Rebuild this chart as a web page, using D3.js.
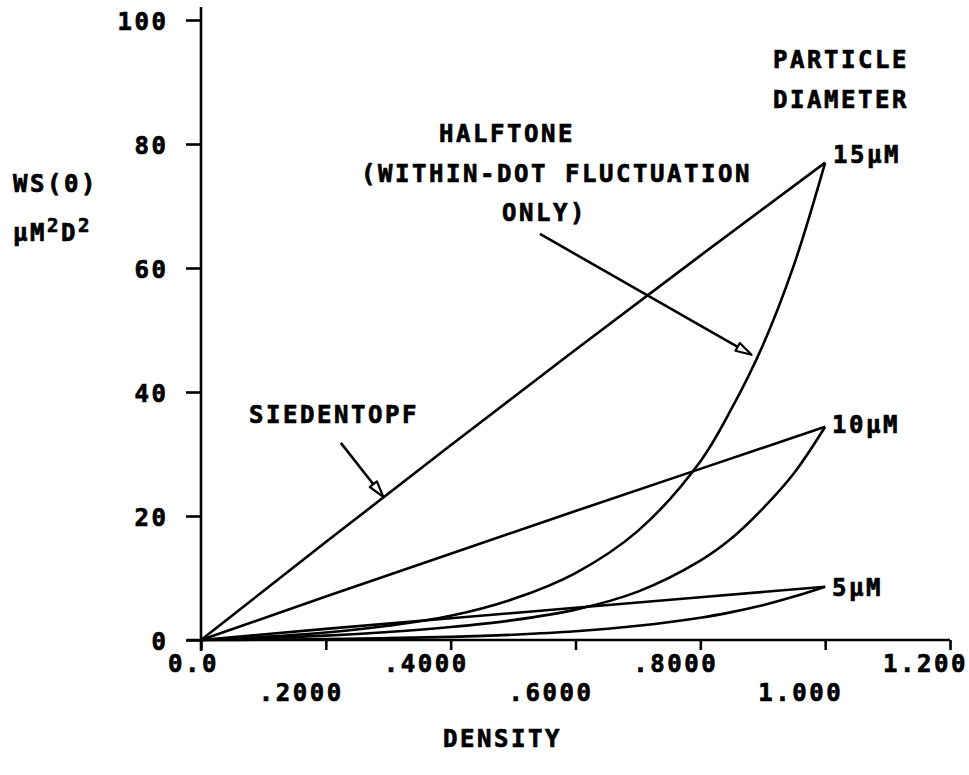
<!DOCTYPE html>
<html><head><meta charset="utf-8">
<script src="https://cdn.jsdelivr.net/npm/d3@7"></script>
<style>
body{margin:0;background:#fff;}
svg text{font-family:"DejaVu Sans Mono",monospace;font-weight:bold;font-size:24px;letter-spacing:2.55px;fill:#000;stroke:#000;stroke-width:0.7px;}
</style></head><body>
<svg id="chart" width="969" height="775"></svg>
<script>
// ---- data ----
const xTicks = [0, 0.2, 0.4, 0.6, 0.8, 1.0, 1.2];
const xTickLabels = ["0.0", ".2000", ".4000", ".6000", ".8000", "1.000", "1.200"];
const yTicks = [0, 20, 40, 60, 80, 100];
const yTickLabels = ["0", "20", "40", "60", "80", "100"];

// Siedentopf (straight) curves
const siedDensity = [0, 0.2, 0.4, 0.6, 0.8, 1.0];
const sied15 = [0, 15.8, 31.4, 46.8, 62.0, 77.0];
const sied10 = [0, 7.0, 13.9, 20.8, 27.6, 34.4];
const sied5  = [0, 1.8, 3.5, 5.2, 6.9, 8.6];

// Halftone (within-dot fluctuation only) curves
const halfDensity = [0, 0.1, 0.2, 0.3, 0.4, 0.5, 0.6, 0.7, 0.8, 0.85, 0.9, 0.95, 1.0];
const half15 = [0, 0.5, 1.2, 2.3, 3.9, 6.6, 10.8, 17.6, 28.8, 37.3, 47.5, 60.5, 77.0];
const half10 = [0, 0.3, 0.7, 1.3, 2.1, 3.2, 4.9, 7.8, 12.8, 16.4, 21.2, 26.9, 34.4];
const half5  = [0, 0.05, 0.15, 0.3, 0.5, 0.85, 1.4, 2.3, 3.6, 4.5, 5.6, 7.0, 8.6];

const diameterLabels = ["15\u00B5M", "10\u00B5M", "5\u00B5M"];

// annotation arrows in data units: [from, to]
const siedArrow = [[0.224, 31.8], [0.292, 23.1]];
const halfArrow = [[0.543, 65.5], [0.882, 46.0]];

// ---- chart ----
const svg = d3.select("#chart");
const x = d3.scaleLinear().domain([0, 1.2]).range([201, 950]);
const y = d3.scaleLinear().domain([0, 100]).range([640, 20]);
const SW = 2.6;

// x axis
const gx = svg.append("g").attr("transform", `translate(0,${y(0)})`)
  .call(d3.axisBottom(x).tickValues(xTicks).tickSize(10).tickSizeOuter(0)
    .tickFormat((d, i) => xTickLabels[i]));
gx.select(".domain").remove();
gx.selectAll(".tick line").attr("stroke", "#000").attr("stroke-width", SW);
gx.selectAll(".tick text").attr("text-anchor", "end").attr("dy", null)
  .attr("x", 17.5).attr("y", (d, i) => i % 2 ? 61 : 32);
svg.append("line").attr("x1", x(0) - 14).attr("x2", x(1.2))
  .attr("y1", y(0)).attr("y2", y(0)).attr("stroke", "#000").attr("stroke-width", SW);

// y axis
const gy = svg.append("g").attr("transform", `translate(${x(0)},0)`)
  .call(d3.axisLeft(y).tickValues(yTicks).tickSize(15).tickSizeOuter(0)
    .tickFormat((d, i) => yTickLabels[i]));
gy.select(".domain").remove();
gy.selectAll(".tick line").attr("stroke", "#000").attr("stroke-width", SW);
gy.selectAll(".tick text").attr("text-anchor", "end").attr("dy", null)
  .attr("x", -32.5).attr("y", 9);
svg.append("line").attr("x1", x(0)).attr("x2", x(0))
  .attr("y1", y(0) + 11).attr("y2", y(100) - 13).attr("stroke", "#000").attr("stroke-width", SW);

// curves
const straight = d3.line().x(d => x(d[0])).y(d => y(d[1]));
const smooth = d3.line().x(d => x(d[0])).y(d => y(d[1])).curve(d3.curveCatmullRom.alpha(0.5));
[sied15, sied10, sied5].forEach(s => {
  svg.append("path").datum(siedDensity.map((d, i) => [d, s[i]]))
    .attr("d", straight).attr("fill", "none").attr("stroke", "#000")
    .attr("stroke-width", SW).attr("stroke-linejoin", "round");
});
[half15, half10, half5].forEach(s => {
  svg.append("path").datum(halfDensity.map((d, i) => [d, s[i]]))
    .attr("d", smooth).attr("fill", "none").attr("stroke", "#000")
    .attr("stroke-width", SW).attr("stroke-linejoin", "round");
});

// arrows
function arrow(a) {
  const x1 = x(a[0][0]), y1 = y(a[0][1]), x2 = x(a[1][0]), y2 = y(a[1][1]);
  const ang = Math.atan2(y2 - y1, x2 - x1);
  const L = 16, W = 4.5;
  const bx = x2 - L * Math.cos(ang), by = y2 - L * Math.sin(ang);
  svg.append("line").attr("x1", x1).attr("y1", y1).attr("x2", bx).attr("y2", by)
    .attr("stroke", "#000").attr("stroke-width", SW);
  const p = [[x2, y2],
    [bx + W * Math.sin(ang), by - W * Math.cos(ang)],
    [bx - W * Math.sin(ang), by + W * Math.cos(ang)]];
  svg.append("polygon").attr("points", p.map(q => q.join(",")).join(" "))
    .attr("fill", "#fff").attr("stroke", "#000").attr("stroke-width", 2.2)
    .attr("stroke-linejoin", "round");
}
arrow(siedArrow);
arrow(halfArrow);

// labels
const txt = (s, tx, ty) => svg.append("text").attr("x", tx).attr("y", ty).text(s);
txt("PARTICLE", 773, 68);
txt("DIAMETER", 773, 108);
txt(diameterLabels[0], 833, 163);
txt(diameterLabels[1], 832, 433);
txt(diameterLabels[2], 832, 596);
txt("HALFTONE", 439, 142);
txt("(WITHIN-DOT FLUCTUATION", 361, 182);
txt("ONLY)", 502, 221);
txt("SIEDENTOPF", 249, 423);
txt("WS(0)", 13, 192);
txt("DENSITY", 443, 747);

const yl = svg.append("text").attr("x", 13).attr("y", 241);
yl.append("tspan").text("\u00B5M");
yl.append("tspan").attr("dy", -9).style("font-size", "19px").text("2");
yl.append("tspan").attr("dy", 9).text("D");
yl.append("tspan").attr("dy", -9).style("font-size", "19px").text("2");
</script>
</body></html>
